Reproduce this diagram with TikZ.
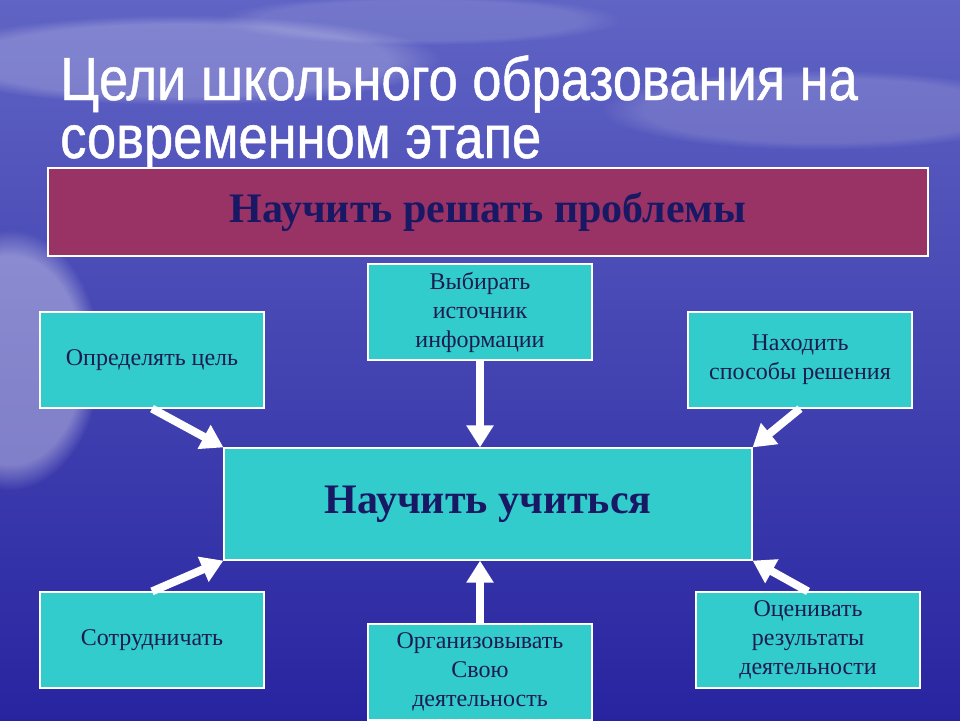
\documentclass[tikz,border=0pt]{standalone}
\usepackage{fontspec}
\setmainfont{Liberation Serif}
\newfontfamily\titlefont[FakeStretch=0.86,FakeBold=0.8]{Liberation Sans}
\usetikzlibrary{arrows.meta,fadings}
\definecolor{skytop}{RGB}{96,100,196}
\definecolor{skymid}{RGB}{62,64,178}
\definecolor{seabot}{RGB}{40,36,160}
\definecolor{teal}{RGB}{51,204,204}
\definecolor{maroon}{RGB}{153,51,102}
\definecolor{navytext}{RGB}{28,28,80}
\definecolor{boldtext}{RGB}{24,24,100}
\tikzset{
  goal/.style={rectangle,fill=teal,draw=white,line width=1.2pt,minimum width=224pt,minimum height=96pt,
    align=center,text=navytext,font=\fontsize{24}{29}\selectfont,inner sep=2pt},
  arr/.style={white,line width=8pt,-{Triangle[width=26pt,length=22pt]}}
}
\begin{document}
\begin{tikzpicture}[x=1pt,y=-1pt]
  % background
  \useasboundingbox (0,0) rectangle (960,720);
  \shade[top color=skytop,middle color=skymid,bottom color=seabot] (0,0) rectangle (960,720);
  \fill[white,opacity=0.35,path fading=circle with fuzzy edge 20 percent] (10,360) ellipse (90 and 130);
  \fill[white,opacity=0.22,path fading=circle with fuzzy edge 20 percent] (180,60) ellipse (260 and 45);
  \fill[white,opacity=0.15,path fading=circle with fuzzy edge 20 percent] (820,110) ellipse (220 and 40);
  \fill[white,opacity=0.12,path fading=circle with fuzzy edge 20 percent] (420,20) ellipse (200 and 25);

  % title
  \node[anchor=base west,inner sep=0,text=white,font=\titlefont\fontsize{61}{61}\selectfont] (title1) at (60,100) {Цели школьного образования на};
  \node[anchor=base west,inner sep=0,text=white,font=\titlefont\fontsize{61}{61}\selectfont] (title2) at (60,158) {современном этапе};

  % boxes
  \node[rectangle,fill=maroon,draw=white,line width=1.2pt,minimum width=880pt,minimum height=88pt,
    text=boldtext,font=\bfseries\fontsize{42}{48}\selectfont] (prob) at (488,212) {Научить решать проблемы};
  \node[goal,minimum width=528pt,minimum height=112pt,text=boldtext,font=\bfseries\fontsize{42}{48}\selectfont] (learn) at (488,504) {Научить учиться};
  \node[goal] (aim) at (152,360) {Определять цель};
  \node[goal] (source) at (480,312) {Выбирать\\источник\\информации};
  \node[goal] (ways) at (800,360) {Находить\\способы решения};
  \node[goal] (coop) at (152,640) {Сотрудничать};
  \node[goal] (organize) at (480,672) {Организовывать\\Свою\\деятельность};
  \node[goal] (assess) at (808,640) {Оценивать\\результаты\\деятельности};

  % arrows
  \draw[arr] (aim.south) -- (learn.north west);
  \draw[arr] (source.south) -- (source.south |- learn.north);
  \draw[arr] (ways.south) -- (learn.north east);
  \draw[arr] (coop.north) -- (learn.south west);
  \draw[arr] (organize.north) -- (organize.north |- learn.south);
  \draw[arr] (assess.north) -- (learn.south east);

 \end{tikzpicture}
\end{document}
